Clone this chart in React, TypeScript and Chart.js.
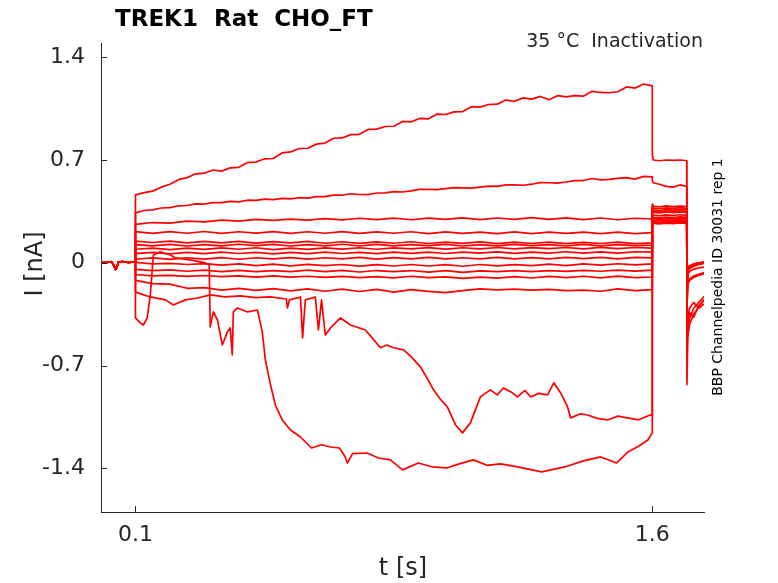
import React, { useEffect, useRef } from "react";
import { Chart, registerables } from "chart.js";

Chart.register(...registerables);

const FONT = "'DejaVu Sans', 'Liberation Sans', sans-serif";
const INK = "#262626";
const RED = "#ff0000";

const titleText = "TREK1  Rat  CHO_FT";
const subtitleText = "35 °C  Inactivation";
const sideText = "BBP Channelpedia ID 30031 rep 1";
const xLabel = "t [s]";
const yLabel = "I [nA]";

const yTicks = [-1.4, -0.7, 0, 0.7, 1.4];
const yTickLabels = ["-1.4", "-0.7", "0", "0.7", "1.4"];
const xTicks = [0.1, 1.6];
const xTickLabels = ["0.1", "1.6"];

// holding period before the step (all sweeps overlap)
const baseTimes = [0, 0.015, 0.03, 0.038, 0.042, 0.046, 0.05, 0.065, 0.08, 0.095, 0.1];
const baseValues = [0.006, 0.002, 0.007, -0.02, -0.045, -0.035, 0.004, 0.007, 0.002, 0.006, 0.004];

// main step 0.1 s -> 1.6 s
const stepTimes = [0.10, 0.15, 0.20, 0.25, 0.30, 0.35, 0.40, 0.45, 0.50, 0.55, 0.60, 0.65, 0.70, 0.75, 0.80, 0.85, 0.90, 0.95, 1.00, 1.05, 1.10, 1.15, 1.20, 1.25, 1.30, 1.35, 1.40, 1.45, 1.50, 1.55, 1.60];
const fineTimes = [0.1, 0.125, 0.15, 0.175, 0.2, 0.225, 0.25, 0.275, 0.3, 0.325, 0.35, 0.375, 0.4, 0.425, 0.45, 0.475, 0.5, 0.525, 0.55, 0.575, 0.6, 0.625, 0.65, 0.675, 0.7, 0.725, 0.75, 0.775, 0.8, 0.825, 0.85, 0.875, 0.9, 0.925, 0.95, 0.975, 1.0, 1.025, 1.05, 1.075, 1.1, 1.125, 1.15, 1.175, 1.2, 1.225, 1.25, 1.275, 1.3, 1.325, 1.35, 1.375, 1.4, 1.425, 1.45, 1.475, 1.5, 1.525, 1.55, 1.575, 1.6];

const stepA = [0.462, 0.478, 0.488, 0.515, 0.535, 0.566, 0.58, 0.606, 0.61, 0.632, 0.624, 0.646, 0.65, 0.683, 0.686, 0.708, 0.71, 0.748, 0.755, 0.778, 0.78, 0.808, 0.815, 0.848, 0.85, 0.873, 0.875, 0.908, 0.91, 0.928, 0.93, 0.963, 0.96, 0.983, 0.98, 1.013, 1.01, 1.028, 1.03, 1.063, 1.06, 1.078, 1.08, 1.108, 1.1, 1.123, 1.115, 1.133, 1.11, 1.138, 1.13, 1.138, 1.135, 1.168, 1.16, 1.158, 1.165, 1.198, 1.19, 1.218, 1.205];
const stepB = [0.34, 0.356, 0.36, 0.373, 0.375, 0.388, 0.39, 0.401, 0.4, 0.41, 0.41, 0.418, 0.415, 0.426, 0.425, 0.433, 0.43, 0.438, 0.435, 0.443, 0.44, 0.451, 0.45, 0.461, 0.46, 0.47, 0.465, 0.464, 0.475, 0.476, 0.485, 0.482, 0.49, 0.5, 0.5, 0.498, 0.505, 0.512, 0.51, 0.508, 0.515, 0.522, 0.52, 0.53, 0.53, 0.528, 0.535, 0.546, 0.545, 0.543, 0.55, 0.56, 0.56, 0.574, 0.565, 0.568, 0.575, 0.58, 0.57, 0.588, 0.585];
const stepC = [0.262, 0.274, 0.27, 0.283, 0.278, 0.29, 0.284, 0.296, 0.288, 0.297, 0.29, 0.3, 0.292, 0.303, 0.294, 0.304, 0.293, 0.304, 0.295, 0.306, 0.294, 0.305, 0.296, 0.307, 0.295, 0.306, 0.294, 0.305, 0.293, 0.303, 0.298];
const stepD = [0.212, 0.2, 0.212, 0.201, 0.213, 0.2, 0.211, 0.202, 0.212, 0.2, 0.211, 0.201, 0.212, 0.2, 0.21, 0.201, 0.211, 0.199, 0.21, 0.2, 0.209, 0.199, 0.21, 0.198, 0.209, 0.2, 0.208, 0.198, 0.209, 0.199, 0.205];
const stepE = [0.147, 0.138, 0.147, 0.136, 0.146, 0.135, 0.145, 0.134, 0.144, 0.135, 0.145, 0.133, 0.143, 0.132, 0.142, 0.133, 0.143, 0.131, 0.141, 0.132, 0.142, 0.13, 0.14, 0.131, 0.141, 0.13, 0.139, 0.131, 0.14, 0.13, 0.135];
const stepF = [0.124, 0.115, 0.125, 0.114, 0.124, 0.115, 0.126, 0.116, 0.125, 0.114, 0.124, 0.115, 0.126, 0.114, 0.125, 0.115, 0.124, 0.116, 0.125, 0.114, 0.124, 0.115, 0.125, 0.116, 0.124, 0.114, 0.125, 0.115, 0.124, 0.116, 0.12];
const stepG = [0.092, 0.1, 0.09, 0.1, 0.091, 0.101, 0.092, 0.102, 0.09, 0.1, 0.091, 0.101, 0.093, 0.102, 0.092, 0.101, 0.094, 0.103, 0.093, 0.102, 0.095, 0.104, 0.094, 0.103, 0.096, 0.104, 0.095, 0.105, 0.096, 0.104, 0.1];
const stepH = [0.062, 0.071, 0.061, 0.07, 0.062, 0.072, 0.063, 0.071, 0.061, 0.07, 0.062, 0.072, 0.063, 0.071, 0.062, 0.072, 0.064, 0.073, 0.063, 0.072, 0.065, 0.074, 0.064, 0.073, 0.066, 0.075, 0.065, 0.074, 0.066, 0.075, 0.072];
const stepI = [0.024, 0.033, 0.023, 0.034, 0.025, 0.035, 0.024, 0.034, 0.026, 0.035, 0.025, 0.034, 0.026, 0.036, 0.025, 0.035, 0.026, 0.036, 0.027, 0.034, 0.026, 0.037, 0.027, 0.035, 0.026, 0.037, 0.028, 0.036, 0.027, 0.037, 0.033];
const stepJ = [0.003, -0.008, -0.004, -0.012, -0.006, -0.016, -0.008, -0.019, -0.01, -0.021, -0.011, -0.02, -0.012, -0.023, -0.013, -0.022, -0.012, -0.022, -0.013, -0.024, -0.012, -0.021, -0.013, -0.02, -0.009, -0.019, -0.008, -0.016, -0.007, -0.014, -0.008];
const stepK = [-0.045, -0.054, -0.049, -0.058, -0.05, -0.06, -0.052, -0.061, -0.053, -0.06, -0.05, -0.061, -0.052, -0.063, -0.053, -0.06, -0.053, -0.064, -0.054, -0.066, -0.055, -0.061, -0.054, -0.06, -0.053, -0.059, -0.052, -0.058, -0.05, -0.057, -0.05];
const stepL = [-0.08, -0.09, -0.086, -0.093, -0.087, -0.095, -0.089, -0.098, -0.09, -0.098, -0.092, -0.1, -0.093, -0.101, -0.094, -0.103, -0.092, -0.102, -0.096, -0.106, -0.098, -0.105, -0.094, -0.104, -0.093, -0.102, -0.092, -0.103, -0.091, -0.101, -0.097];
const stepM = [-0.12, -0.142, -0.146, -0.174, -0.17, -0.186, -0.174, -0.188, -0.176, -0.192, -0.178, -0.194, -0.18, -0.196, -0.182, -0.2, -0.183, -0.195, -0.204, -0.19, -0.178, -0.185, -0.18, -0.187, -0.181, -0.19, -0.186, -0.194, -0.178, -0.19, -0.183];

// the two irregular inward sweeps have their own sample times
const pTimes = [0.1, 0.143, 0.187, 0.21, 0.245, 0.28, 0.317, 0.36, 0.404, 0.45, 0.491, 0.538, 0.541, 0.547, 0.579, 0.585, 0.593, 0.622, 0.631, 0.64, 0.651, 0.666, 0.695, 0.724, 0.767, 0.79, 0.811, 0.83, 0.849, 0.878, 0.9, 0.927, 0.945, 0.965, 0.985, 1.005, 1.029, 1.049, 1.072, 1.101, 1.13, 1.15, 1.168, 1.19, 1.209, 1.23, 1.247, 1.27, 1.296, 1.314, 1.334, 1.354, 1.363, 1.39, 1.412, 1.44, 1.47, 1.5, 1.528, 1.56, 1.594, 1.6];
const pValues = [-0.2, -0.233, -0.253, -0.288, -0.253, -0.24, -0.219, -0.232, -0.226, -0.238, -0.233, -0.247, -0.308, -0.253, -0.233, -0.512, -0.253, -0.233, -0.458, -0.253, -0.492, -0.444, -0.376, -0.424, -0.458, -0.52, -0.579, -0.56, -0.579, -0.593, -0.64, -0.709, -0.78, -0.866, -0.93, -0.982, -1.105, -1.159, -1.091, -0.914, -0.866, -0.9, -0.853, -0.88, -0.914, -0.87, -0.914, -0.89, -0.9, -0.818, -0.887, -0.982, -1.057, -1.03, -1.037, -1.06, -1.071, -1.045, -1.057, -1.07, -1.037, -1.04];
const qTimes = [0.1, 0.114, 0.123, 0.134, 0.143, 0.152, 0.172, 0.201, 0.216, 0.259, 0.303, 0.314, 0.317, 0.326, 0.338, 0.352, 0.367, 0.375, 0.381, 0.384, 0.396, 0.425, 0.454, 0.468, 0.477, 0.492, 0.506, 0.526, 0.55, 0.579, 0.611, 0.64, 0.666, 0.692, 0.708, 0.715, 0.73, 0.773, 0.805, 0.84, 0.875, 0.921, 0.96, 1.003, 1.04, 1.081, 1.12, 1.16, 1.209, 1.279, 1.346, 1.4, 1.45, 1.497, 1.529, 1.56, 1.587, 1.6];
const qValues = [-0.376, -0.41, -0.424, -0.376, -0.219, 0.053, 0.074, 0.053, 0.033, 0.019, -0.001, -0.015, -0.437, -0.335, -0.39, -0.56, -0.471, -0.444, -0.628, -0.335, -0.308, -0.335, -0.322, -0.471, -0.662, -0.832, -0.969, -1.071, -1.139, -1.187, -1.262, -1.24, -1.255, -1.262, -1.32, -1.364, -1.3, -1.296, -1.33, -1.343, -1.411, -1.364, -1.39, -1.398, -1.37, -1.343, -1.38, -1.37, -1.391, -1.425, -1.391, -1.35, -1.323, -1.364, -1.289, -1.25, -1.207, -1.159];

// second (test) pulse 1.6 s -> 1.7 s
const pulseTimes = [1.6, 1.603, 1.62, 1.64, 1.66, 1.68, 1.7];
const pulseA = [0.735, 0.7, 0.695, 0.7, 0.697, 0.7, 0.695];
const pulseB = [0.56, 0.545, 0.535, 0.52, 0.515, 0.53, 0.52];
const pulseC = [0.4, 0.385, 0.38, 0.387, 0.382, 0.386, 0.383];
const pulseD = [0.385, 0.372, 0.368, 0.374, 0.37, 0.375, 0.371];
const pulseE = [0.37, 0.36, 0.356, 0.362, 0.358, 0.363, 0.36];
const pulseF = [0.36, 0.35, 0.347, 0.352, 0.349, 0.353, 0.35];
const pulseG = [0.315, 0.31, 0.306, 0.311, 0.308, 0.312, 0.309];
const pulseH = [0.305, 0.3, 0.296, 0.301, 0.298, 0.302, 0.299];
const pulseI = [0.295, 0.29, 0.286, 0.291, 0.288, 0.292, 0.289];
const pulseJ = [0.285, 0.28, 0.276, 0.281, 0.278, 0.282, 0.279];
const pulseK = [0.28, 0.274, 0.27, 0.275, 0.272, 0.276, 0.273];
const pulseL = [0.275, 0.268, 0.265, 0.27, 0.267, 0.271, 0.268];
const pulseM = [0.315, 0.305, 0.3, 0.306, 0.302, 0.307, 0.303];
const pulseP = [0.35, 0.345, 0.34, 0.346, 0.342, 0.347, 0.343];
const pulseQ = [0.33, 0.325, 0.32, 0.326, 0.322, 0.327, 0.323];

// tail after the test pulse
const tailTimes = [1.7005, 1.703, 1.708, 1.72, 1.735, 1.75];
const tailA = [-0.83, -0.5, -0.42, -0.35, -0.3, -0.25];
const tailB = [-0.62, -0.45, -0.38, -0.31, -0.27, -0.23];
const tailC = [-0.3, -0.15, -0.12, -0.1, -0.085, -0.075];
const tailD = [-0.28, -0.14, -0.115, -0.095, -0.08, -0.07];
const tailE = [-0.26, -0.13, -0.11, -0.09, -0.078, -0.068];
const tailF = [-0.2, -0.06, -0.04, -0.025, -0.012, -0.005];
const tailG = [-0.19, -0.055, -0.035, -0.02, -0.01, -0.002];
const tailH = [-0.18, -0.05, -0.03, -0.018, -0.008, 0.0];
const tailI = [-0.17, -0.045, -0.028, -0.015, -0.005, 0.002];
const tailJ = [-0.16, -0.04, -0.025, -0.012, -0.004, 0.003];
const tailK = [-0.15, -0.035, -0.022, -0.01, -0.002, 0.004];
const tailL = [-0.14, -0.03, -0.02, -0.008, 0.0, 0.005];
const tailM = [-0.22, -0.08, -0.06, -0.045, -0.035, -0.03];
const tailP = [-0.55, -0.4, -0.34, -0.37, -0.29, -0.26];
const tailQ = [-0.5, -0.37, -0.31, -0.27, -0.31, -0.28];

const sweeps = [
  { t: fineTimes, v: stepA, pulse: pulseA, tail: tailA },
  { t: fineTimes, v: stepB, pulse: pulseB, tail: tailB },
  { t: stepTimes, v: stepC, pulse: pulseC, tail: tailC },
  { t: stepTimes, v: stepD, pulse: pulseD, tail: tailD },
  { t: stepTimes, v: stepE, pulse: pulseE, tail: tailE },
  { t: stepTimes, v: stepF, pulse: pulseF, tail: tailF },
  { t: stepTimes, v: stepG, pulse: pulseG, tail: tailG },
  { t: stepTimes, v: stepH, pulse: pulseH, tail: tailH },
  { t: stepTimes, v: stepI, pulse: pulseI, tail: tailI },
  { t: stepTimes, v: stepJ, pulse: pulseJ, tail: tailJ },
  { t: stepTimes, v: stepK, pulse: pulseK, tail: tailK },
  { t: stepTimes, v: stepL, pulse: pulseL, tail: tailL },
  { t: stepTimes, v: stepM, pulse: pulseM, tail: tailM },
  { t: pTimes, v: pValues, pulse: pulseP, tail: tailP },
  { t: qTimes, v: qValues, pulse: pulseQ, tail: tailQ },
];

function sweepPoints(s: { t: number[]; v: number[]; pulse: number[]; tail: number[] }) {
  const pts: { x: number; y: number }[] = [];
  baseTimes.forEach((t, i) => pts.push({ x: t, y: baseValues[i] }));
  s.t.forEach((t, i) => pts.push({ x: t, y: s.v[i] }));
  pulseTimes.forEach((t, i) => pts.push({ x: t, y: s.pulse[i] }));
  tailTimes.forEach((t, i) => pts.push({ x: t, y: s.tail[i] }));
  return pts;
}

const decor = {
  id: "decor",
  afterDraw(chart: any) {
    const { ctx, chartArea: a, scales } = chart;
    ctx.save();
    ctx.strokeStyle = INK;
    ctx.lineWidth = 1;
    yTicks.forEach((v) => {
      const y = Math.round(scales.y.getPixelForValue(v)) + 0.5;
      ctx.beginPath();
      ctx.moveTo(a.left, y);
      ctx.lineTo(a.left + 6, y);
      ctx.stroke();
    });
    xTicks.forEach((v) => {
      const x = Math.round(scales.x.getPixelForValue(v)) + 0.5;
      ctx.beginPath();
      ctx.moveTo(x, a.bottom);
      ctx.lineTo(x, a.bottom - 6);
      ctx.stroke();
    });
    ctx.fillStyle = "#000";
    ctx.font = `bold 23px ${FONT}`;
    ctx.textAlign = "left";
    ctx.textBaseline = "alphabetic";
    ctx.fillText(titleText, 115, 26);

    ctx.fillStyle = INK;
    ctx.font = `19px ${FONT}`;
    ctx.textAlign = "right";
    ctx.fillText(subtitleText, 703, 47);

    ctx.font = `24px ${FONT}`;
    ctx.textAlign = "center";
    ctx.fillText(xLabel, 403, 575);

    ctx.save();
    ctx.translate(42, 264);
    ctx.rotate(-Math.PI / 2);
    ctx.fillText(yLabel, 0, 0);
    ctx.restore();

    ctx.save();
    ctx.translate(722, 277);
    ctx.rotate(-Math.PI / 2);
    ctx.font = `14px ${FONT}`;
    ctx.fillStyle = "#000";
    ctx.fillText(sideText, 0, 0);
    ctx.restore();
    ctx.restore();
  },
};

export default function App() {
  const ref = useRef<HTMLCanvasElement | null>(null);
  useEffect(() => {
    const canvas = ref.current;
    if (!canvas) return;
    const chart = new Chart(canvas, {
      type: "line",
      data: {
        datasets: sweeps.map((s) => ({
          data: sweepPoints(s),
          borderColor: RED,
          borderWidth: 1.7,
          borderJoinStyle: "round" as const,
          pointRadius: 0,
          tension: 0,
          fill: false,
        })),
      },
      options: {
        animation: false,
        responsive: false,
        events: [],
        layout: { padding: { top: 43, right: 74, left: 0, bottom: 0 } },
        plugins: { legend: { display: false }, tooltip: { enabled: false }, title: { display: false } },
        scales: {
          x: {
            type: "linear",
            min: 0,
            max: 1.75,
            grid: { display: false, drawTicks: false },
            border: { display: true, color: INK, width: 1 },
            afterBuildTicks: (s: any) => {
              s.ticks = xTicks.map((v) => ({ value: v }));
            },
            afterFit: (s: any) => {
              s.height = 71;
            },
            ticks: {
              autoSkip: false,
              maxRotation: 0,
              padding: 10,
              color: INK,
              font: { family: FONT, size: 22 },
              callback: (v: any) => {
                const i = xTicks.indexOf(Number(v));
                return i >= 0 ? xTickLabels[i] : "";
              },
            },
          },
          y: {
            type: "linear",
            min: -1.698,
            max: 1.497,
            grid: { display: false, drawTicks: false },
            border: { display: true, color: INK, width: 1 },
            afterBuildTicks: (s: any) => {
              s.ticks = yTicks.map((v) => ({ value: v }));
            },
            afterFit: (s: any) => {
              s.width = 101;
            },
            ticks: {
              autoSkip: false,
              padding: 16,
              color: INK,
              font: { family: FONT, size: 22 },
              callback: (v: any) => {
                const i = yTicks.indexOf(Number(v));
                return i >= 0 ? yTickLabels[i] : "";
              },
            },
          },
        },
      },
      plugins: [decor],
    });
    return () => chart.destroy();
  }, []);
  return (
    <div style={{ position: "fixed", left: 0, top: 0, width: 778, height: 583, background: "#fff" }}>
      <canvas ref={ref} width={778} height={583} style={{ display: "block" }} />
    </div>
  );
}
